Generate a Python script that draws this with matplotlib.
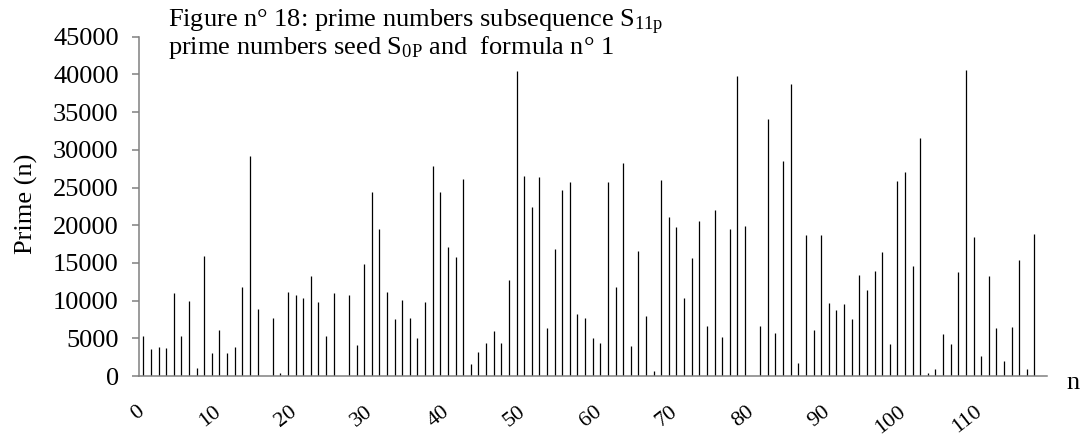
import matplotlib
matplotlib.use("Agg")
import matplotlib.pyplot as plt
import matplotlib.transforms as mtransforms

plt.rcParams['font.family'] = ['Liberation Serif', 'DejaVu Serif']
plt.rcParams['mathtext.fontset'] = 'custom'
plt.rcParams['mathtext.rm'] = 'Liberation Serif'
plt.rcParams['mathtext.it'] = 'Liberation Serif:italic'

# values (n = 0..117)
n_values = list(range(118))
prime_values = [
    5304, 3624, 3845, 3713, 11006, 5260, 9989, 1061, 15912, 3050,
    6100, 3050, 3845, 11846, 29172, 8928, 0, 7691, 354, 11094,
    10741, 10387, 13260, 9768, 5348, 11006, 0, 10785, 4111, 14895,
    24443, 19448, 11183, 7514, 10078, 7691, 5039, 9812, 27846, 24443,
    17061, 15824, 26122, 1591, 3182, 4376, 5923, 4332, 12774, 40487,
    26564, 22409, 26387, 6321, 16796, 24664, 25724, 8221, 7691, 5039,
    4420, 25724, 11757, 28244, 3934, 16619, 7956, 619, 25990, 21039,
    19713, 10387, 15691, 20553, 6586, 22012, 5171, 19448, 39780, 19846,
    0, 6630, 34078, 5702, 28465, 38719, 1724, 18697, 6100, 18697,
    9636, 8752, 9503, 7558, 13393, 11359, 13879, 16442, 4243, 25857,
    27095, 14586, 31515, 354, 928, 5613, 4287, 13835, 40531, 18431,
    2696, 13260, 6365, 2033, 6497, 15337, 928, 18829,
]
x_tick_values = list(range(0, 120, 10))
y_tick_values = list(range(0, 45001, 5000))

fig = plt.figure(figsize=(10.88, 4.36), dpi=100)
ax = fig.add_axes([0.1282, 0.1376, 0.8338, 0.7782])

ax.vlines(n_values, 0, prime_values, color='black', lw=0.9)

ax.set_xlim(-0.5, 118.6)
ax.set_ylim(0, 45000)

for s in ['top', 'right']:
    ax.spines[s].set_visible(False)
for s in ['left', 'bottom']:
    ax.spines[s].set_color('#808080')
    ax.spines[s].set_linewidth(1.1)

ax.set_yticks(y_tick_values)
ax.set_yticklabels([str(v) for v in y_tick_values], fontsize=19)
ax.tick_params(axis='y', direction='out', length=5, width=1.1, color='#808080', pad=10)

ax.set_xticks(x_tick_values)
ax.set_xticklabels([str(v) for v in x_tick_values], fontsize=16,
                   rotation=38, ha='right', va='top')
ax.tick_params(axis='x', length=0, pad=19)
# nudge rotated labels a few pixels right, like the reference
shift = mtransforms.ScaledTranslation(5 / 100, 0, fig.dpi_scale_trans)
for lbl in ax.get_xticklabels():
    lbl.set_transform(lbl.get_transform() + shift)

fig.text(26 / 1088, 1 - 204 / 436, "Prime (n)", fontsize=19, rotation=90,
         ha='center', va='center')
fig.text(1073 / 1088, 1 - 383 / 436, "n", fontsize=19, ha='center', va='center')

fig.text(168 / 1088, 1 - 27 / 436, r"Figure n° 18: prime numbers subsequence S$_{\mathrm{11p}}$",
         fontsize=19, ha='left', va='baseline')
fig.text(168 / 1088, 1 - 54 / 436, r"prime numbers seed S$_{\mathrm{0P}}$ and  formula n° 1",
         fontsize=19, ha='left', va='baseline')

fig.savefig("out.png", dpi=100)
